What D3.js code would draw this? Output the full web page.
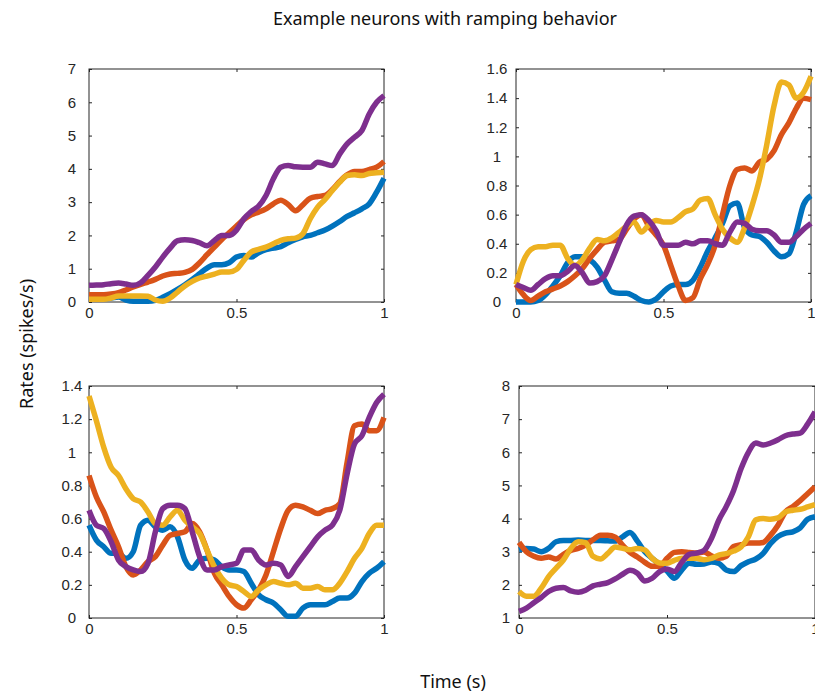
<!DOCTYPE html>
<html>
<head>
<meta charset="utf-8">
<script src="https://cdn.jsdelivr.net/npm/d3@7"></script>
<style>
  body { margin: 0; background: #fff; }
  svg { display: block; }
  .tick text { font-family: "Liberation Sans", Arial, sans-serif; font-size: 15px; fill: #262626; }
  .tick line { stroke: #262626; }
  .label { font-family: "Noto Sans", "Open Sans", sans-serif; font-size: 18px; fill: #111; }
  .line { fill: none; stroke-width: 5.5; stroke-linejoin: round; stroke-linecap: butt; }
</style>
</head>
<body>
<svg id="fig" width="815" height="698"></svg>
<script>
// time axis shared by all panels (s)
const time = [0, 0.025, 0.05, 0.075, 0.1, 0.125, 0.15, 0.175, 0.2, 0.225,
    0.25, 0.275, 0.3, 0.325, 0.35, 0.375, 0.4, 0.425, 0.45, 0.475,
    0.5, 0.525, 0.55, 0.575, 0.6, 0.625, 0.65, 0.675, 0.7, 0.725,
    0.75, 0.775, 0.8, 0.825, 0.85, 0.875, 0.9, 0.925, 0.95, 0.975, 1]

const xTicks = [0, 0.5, 1]
const colors = ["#0072BD", "#D95319", "#EDB120", "#7E2F8E"]

// panel 1 (top left)
const p1Blue = [0.1, 0.1, 0.1, 0.12, 0.15, 0.06, 0.02, 0.02, 0.02, 0.05,
    0.14, 0.25, 0.38, 0.52, 0.68, 0.85, 1.02, 1.12, 1.12, 1.18,
    1.35, 1.4, 1.35, 1.48, 1.57, 1.62, 1.66, 1.78, 1.88, 1.96,
    2.0, 2.08, 2.16, 2.28, 2.42, 2.57, 2.68, 2.8, 2.95, 3.3, 3.72]
const p1Orange = [0.22, 0.22, 0.22, 0.24, 0.28, 0.36, 0.45, 0.53, 0.6, 0.68,
    0.78, 0.84, 0.86, 0.89, 0.98, 1.18, 1.42, 1.65, 1.88, 2.08,
    2.28, 2.48, 2.62, 2.7, 2.8, 2.95, 3.06, 2.93, 2.74, 2.92,
    3.12, 3.17, 3.2, 3.38, 3.62, 3.82, 3.92, 3.92, 3.98, 4.05, 4.22]
const p1Yellow = [0.08, 0.08, 0.08, 0.12, 0.18, 0.18, 0.18, 0.18, 0.17, 0.06,
    0.02, 0.12, 0.3, 0.48, 0.62, 0.72, 0.78, 0.84, 0.9, 0.9,
    0.98, 1.25, 1.5, 1.58, 1.65, 1.75, 1.85, 1.9, 1.92, 2.05,
    2.5, 2.85, 3.08, 3.35, 3.6, 3.8, 3.82, 3.8, 3.86, 3.88, 3.9]
const p1Purple = [0.5, 0.51, 0.52, 0.55, 0.57, 0.54, 0.5, 0.58, 0.8, 1.05,
    1.35, 1.62, 1.84, 1.87, 1.85, 1.78, 1.69, 1.85, 2.0, 2.0,
    2.16, 2.5, 2.72, 2.88, 3.2, 3.7, 4.05, 4.1, 4.06, 4.05,
    4.05, 4.2, 4.15, 4.1, 4.45, 4.75, 4.95, 5.15, 5.65, 6.0, 6.2]
const p1YTicks = [0, 1, 2, 3, 4, 5, 6, 7]

// panel 2 (top right)
const p2Blue = [0, 0, 0, 0.01, 0.05, 0.11, 0.18, 0.27, 0.31, 0.31,
    0.29, 0.24, 0.15, 0.07, 0.06, 0.06, 0.04, 0.01, 0, 0.02,
    0.07, 0.11, 0.12, 0.12, 0.15, 0.24, 0.35, 0.44, 0.54, 0.66,
    0.68, 0.51, 0.46, 0.45, 0.41, 0.35, 0.31, 0.33, 0.48, 0.67, 0.73]
const p2Orange = [0.12, 0.05, 0.01, 0.04, 0.07, 0.09, 0.11, 0.14, 0.18, 0.23,
    0.3, 0.36, 0.41, 0.42, 0.43, 0.5, 0.57, 0.6, 0.52, 0.46,
    0.39, 0.25, 0.11, 0.01, 0.03, 0.16, 0.26, 0.39, 0.6, 0.8,
    0.91, 0.92, 0.9, 0.96, 0.98, 1.04, 1.15, 1.23, 1.33, 1.4, 1.39]
const p2Yellow = [0.12, 0.28, 0.36, 0.38, 0.38, 0.39, 0.39, 0.3, 0.25, 0.29,
    0.37, 0.43, 0.42, 0.44, 0.48, 0.52, 0.55, 0.48, 0.53, 0.56,
    0.55, 0.55, 0.58, 0.62, 0.64, 0.7, 0.71, 0.6, 0.5, 0.44,
    0.41, 0.51, 0.66, 0.84, 1.08, 1.35, 1.51, 1.49, 1.4, 1.44, 1.55]
const p2Purple = [0.12, 0.1, 0.08, 0.12, 0.16, 0.18, 0.18, 0.21, 0.25, 0.2,
    0.13, 0.14, 0.18, 0.29, 0.41, 0.53, 0.59, 0.6, 0.56, 0.49,
    0.39, 0.39, 0.39, 0.41, 0.4, 0.42, 0.42, 0.4, 0.39, 0.48,
    0.55, 0.54, 0.5, 0.49, 0.49, 0.46, 0.41, 0.41, 0.45, 0.5, 0.54]
const p2YTicks = [0, 0.2, 0.4, 0.6, 0.8, 1, 1.2, 1.4, 1.6]

// panel 3 (bottom left)
const p3Blue = [0.56, 0.47, 0.43, 0.39, 0.39, 0.36, 0.4, 0.56, 0.59, 0.55,
    0.53, 0.55, 0.49, 0.35, 0.3, 0.35, 0.36, 0.35, 0.31, 0.29,
    0.29, 0.28, 0.21, 0.14, 0.11, 0.09, 0.05, 0.01, 0.01, 0.06,
    0.08, 0.08, 0.08, 0.1, 0.12, 0.12, 0.15, 0.22, 0.27, 0.3, 0.34]
const p3Orange = [0.86, 0.73, 0.64, 0.53, 0.43, 0.31, 0.26, 0.29, 0.34, 0.37,
    0.44, 0.5, 0.51, 0.52, 0.57, 0.52, 0.41, 0.27, 0.2, 0.13,
    0.08, 0.06, 0.11, 0.17, 0.26, 0.4, 0.54, 0.65, 0.68, 0.67,
    0.65, 0.63, 0.65, 0.66, 0.69, 0.94, 1.16, 1.17, 1.13, 1.13, 1.21]
const p3Yellow = [1.34, 1.19, 1.03, 0.91, 0.86, 0.78, 0.72, 0.7, 0.64, 0.57,
    0.56, 0.61, 0.65, 0.59, 0.55, 0.51, 0.41, 0.31, 0.24, 0.2,
    0.19, 0.16, 0.13, 0.17, 0.2, 0.22, 0.21, 0.2, 0.21, 0.18,
    0.18, 0.19, 0.17, 0.17, 0.21, 0.28, 0.36, 0.42, 0.51, 0.56, 0.56]
const p3Purple = [0.65, 0.56, 0.54, 0.46, 0.35, 0.31, 0.29, 0.28, 0.33, 0.52,
    0.66, 0.68, 0.68, 0.66, 0.52, 0.37, 0.29, 0.29, 0.31, 0.32,
    0.33, 0.41, 0.41, 0.35, 0.32, 0.33, 0.32, 0.25, 0.31, 0.37,
    0.43, 0.49, 0.53, 0.56, 0.65, 0.87, 1.05, 1.1, 1.21, 1.3, 1.35]
const p3YTicks = [0, 0.2, 0.4, 0.6, 0.8, 1, 1.2, 1.4]

// panel 4 (bottom right)
const p4Blue = [3.06, 3.1, 3.08, 3.0, 3.1, 3.3, 3.34, 3.34, 3.35, 3.34,
    3.34, 3.34, 3.33, 3.32, 3.45, 3.58, 3.32, 3.0, 2.8, 2.62,
    2.42, 2.2, 2.45, 2.65, 2.62, 2.63, 2.69, 2.65, 2.45, 2.4,
    2.58, 2.7, 2.78, 2.95, 3.25, 3.46, 3.56, 3.6, 3.72, 3.98, 4.06]
const p4Orange = [3.28, 3.0, 2.86, 2.8, 2.84, 2.78, 2.92, 3.04, 3.1, 3.2,
    3.36, 3.5, 3.5, 3.44, 3.2, 2.98, 2.84, 2.68, 2.56, 2.56,
    2.8, 2.98, 3.0, 2.98, 2.96, 2.99, 2.88, 2.8, 2.86, 3.16,
    3.21, 3.26, 3.26, 3.28, 3.5, 3.8, 4.2, 4.36, 4.54, 4.75, 4.96]
const p4Yellow = [1.8, 1.66, 1.66, 1.9, 2.25, 2.5, 2.75, 3.1, 3.3, 3.27,
    2.86, 2.78, 2.95, 3.14, 3.1, 3.06, 3.1, 3.05, 2.8, 2.66,
    2.65, 2.74, 2.8, 2.8, 2.8, 2.76, 2.8, 2.9, 2.94, 3.02,
    3.14, 3.45, 3.96, 4.0, 3.98, 4.02, 4.2, 4.25, 4.28, 4.35, 4.42]
const p4Purple = [1.2, 1.3, 1.46, 1.62, 1.8, 1.9, 1.92, 1.82, 1.78, 1.84,
    1.97, 2.02, 2.07, 2.18, 2.32, 2.44, 2.35, 2.12, 2.2, 2.4,
    2.48, 2.4, 2.68, 2.92, 2.96, 3.04, 3.4, 3.95, 4.36, 4.85,
    5.5, 6.0, 6.28, 6.22, 6.28, 6.38, 6.5, 6.55, 6.58, 6.85, 7.22]
const p4YTicks = [1, 2, 3, 4, 5, 6, 7, 8]

const svg = d3.select("#fig")

// layout: left, top, right, bottom of each axes box, and y label offset
const panels = [
    { x0: 89, y0: 69, x1: 384, y1: 302, ticks: p1YTicks, lab: 17, series: [p1Blue, p1Orange, p1Yellow, p1Purple] },
    { x0: 516, y0: 69, x1: 811, y1: 302, ticks: p2YTicks, lab: 19, series: [p2Blue, p2Orange, p2Yellow, p2Purple] },
    { x0: 89, y0: 386, x1: 384, y1: 618, ticks: p3YTicks, lab: 17, series: [p3Blue, p3Orange, p3Yellow, p3Purple] },
    { x0: 519, y0: 386, x1: 815, y1: 618, ticks: p4YTicks, lab: 13, series: [p4Blue, p4Orange, p4Yellow, p4Purple] }
]

panels.forEach(drawPanel)

function drawPanel(p) {
    let xScale = d3.scaleLinear().domain([0, 1]).range([p.x0, p.x1])
    let yScale = d3.scaleLinear()
        .domain(d3.extent(p.ticks))
        .range([p.y1, p.y0])

    // box
    svg.append("rect")
        .attr("x", p.x0).attr("y", p.y0)
        .attr("width", p.x1 - p.x0).attr("height", p.y1 - p.y0)
        .attr("fill", "none").attr("stroke", "#262626").attr("stroke-width", 1)

    // ticks pointing inward on all four sides
    let bottom = svg.append("g")
        .attr("transform", "translate(0," + p.y1 + ")")
        .call(d3.axisBottom(xScale).tickValues(xTicks).tickSize(-3).tickPadding(5).tickFormat(d3.format("")))
    svg.append("g")
        .attr("transform", "translate(0," + p.y0 + ")")
        .call(d3.axisTop(xScale).tickValues(xTicks).tickSize(-3).tickFormat(""))
    let left = svg.append("g")
        .attr("transform", "translate(" + p.x0 + ",0)")
        .call(d3.axisLeft(yScale).tickValues(p.ticks).tickSize(-3).tickFormat(d3.format("")))
    svg.append("g")
        .attr("transform", "translate(" + p.x1 + ",0)")
        .call(d3.axisRight(yScale).tickValues(p.ticks).tickSize(-3).tickFormat(""))
    svg.selectAll(".domain").remove()

    // y labels are centred in a column left of the axis
    left.selectAll(".tick text")
        .attr("text-anchor", "middle")
        .attr("x", -p.lab)
    bottom.selectAll(".tick text").attr("dy", "0.71em")

    let valueLine = d3.line()
        .x((d, i) => xScale(time[i]))
        .y(d => yScale(d))
        .curve(d3.curveMonotoneX)

    p.series.forEach((s, i) => {
        svg.append("path")
            .datum(s)
            .attr("class", "line")
            .attr("stroke", colors[i])
            .attr("d", valueLine)
    })
}

svg.append("text")
    .attr("class", "label")
    .attr("x", 445).attr("y", 25)
    .attr("text-anchor", "middle")
    .text("Example neurons with ramping behavior")

svg.append("text")
    .attr("class", "label")
    .attr("x", 453).attr("y", 688)
    .attr("text-anchor", "middle")
    .text("Time (s)")

svg.append("text")
    .attr("class", "label")
    .attr("transform", "translate(33,344) rotate(-90)")
    .attr("text-anchor", "middle")
    .text("Rates (spikes/s)")
</script>
</body>
</html>
